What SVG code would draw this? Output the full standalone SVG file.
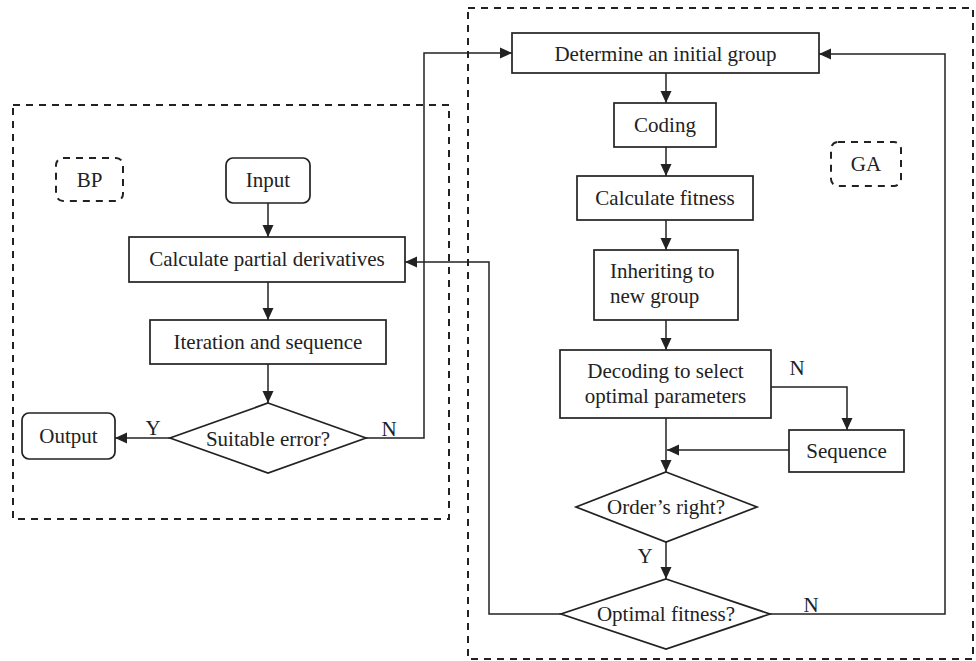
<svg xmlns="http://www.w3.org/2000/svg" width="976" height="661" viewBox="0 0 976 661">
<style>
  .box{fill:#fff;stroke:#222;stroke-width:1.7}
  .dash{fill:none;stroke:#222;stroke-width:2;stroke-dasharray:7,6}
  .ln{fill:none;stroke:#222;stroke-width:1.5}
  text{font-family:"Liberation Serif","Times New Roman",serif;font-size:21px;fill:#222}
  .c{text-anchor:middle}
</style>
<defs>
  <marker id="ah" viewBox="0 0 12 12" refX="12" refY="6" markerWidth="12" markerHeight="12" markerUnits="userSpaceOnUse" orient="auto">
    <path d="M0,0.5 L12,6 L0,11.5 z" fill="#222"/>
  </marker>
</defs>
<rect width="976" height="661" fill="#fff"/>
<g id="bp-frame"><rect class="dash" x="13" y="105" width="436" height="414"/></g>
<g id="ga-frame"><rect class="dash" x="468" y="8" width="505" height="651"/></g>
<g id="connectors">
  <path class="ln" d="M268,203 V237" marker-end="url(#ah)"/>
  <path class="ln" d="M268,282 V320" marker-end="url(#ah)"/>
  <path class="ln" d="M268,364 V403" marker-end="url(#ah)"/>
  <path class="ln" d="M170,438 H115" marker-end="url(#ah)"/>
  <path class="ln" d="M366,438 H424 V53 H512" marker-end="url(#ah)"/>
  <path class="ln" d="M666,73 V103" marker-end="url(#ah)"/>
  <path class="ln" d="M666,147 V176" marker-end="url(#ah)"/>
  <path class="ln" d="M666,220 V250" marker-end="url(#ah)"/>
  <path class="ln" d="M666,320 V350" marker-end="url(#ah)"/>
  <path class="ln" d="M666,418 V472" marker-end="url(#ah)"/>
  <path class="ln" d="M771,387 H847 V430" marker-end="url(#ah)"/>
  <path class="ln" d="M789,450 H667" marker-end="url(#ah)"/>
  <path class="ln" d="M666,542 V579" marker-end="url(#ah)"/>
  <path class="ln" d="M561,614 H489 V262 H405" marker-end="url(#ah)"/>
  <path class="ln" d="M770,614 H945 V54 H819" marker-end="url(#ah)"/>
  <text class="c" x="153" y="435">Y</text>
  <text class="c" x="389" y="436">N</text>
  <text class="c" x="797" y="375">N</text>
  <text class="c" x="645" y="563">Y</text>
  <text class="c" x="811" y="612">N</text>
</g>
<g id="bp-label"><rect class="dash" x="56" y="158" width="67" height="43" rx="7"/><text class="c" x="89.5" y="187">BP</text></g>
<g id="ga-label"><rect class="dash" x="831" y="142" width="70" height="44" rx="7"/><text class="c" x="866" y="171">GA</text></g>
<g id="input"><rect class="box" x="226" y="158" width="84" height="45" rx="7"/><text class="c" x="268" y="187">Input</text></g>
<g id="calc-partial"><rect class="box" x="129" y="237" width="276" height="45"/><text class="c" x="267" y="266">Calculate partial derivatives</text></g>
<g id="iteration"><rect class="box" x="150" y="320" width="236" height="44"/><text class="c" x="268" y="349">Iteration and sequence</text></g>
<g id="suitable"><polygon class="box" points="268,403 366,438 268,473 170,438"/><text class="c" x="268" y="446">Suitable error?</text></g>
<g id="output"><rect class="box" x="22" y="413" width="93" height="46" rx="7"/><text class="c" x="68.5" y="443">Output</text></g>
<g id="determine"><rect class="box" x="512" y="33" width="307" height="40"/><text class="c" x="665.5" y="61">Determine an initial group</text></g>
<g id="coding"><rect class="box" x="614" y="103" width="102" height="44"/><text class="c" x="665" y="132">Coding</text></g>
<g id="calc-fitness"><rect class="box" x="577" y="176" width="176" height="44"/><text class="c" x="665" y="205">Calculate fitness</text></g>
<g id="inheriting"><rect class="box" x="594" y="250" width="144" height="70"/><text x="610" y="278">Inheriting to</text><text x="610" y="303">new group</text></g>
<g id="decoding"><rect class="box" x="560" y="350" width="211" height="68"/><text class="c" x="665.5" y="378">Decoding to select</text><text class="c" x="665.5" y="403">optimal parameters</text></g>
<g id="sequence"><rect class="box" x="789" y="430" width="115" height="42"/><text class="c" x="846.5" y="458">Sequence</text></g>
<g id="order"><polygon class="box" points="666,472 757,507 666,542 576,507"/><text class="c" x="666" y="514">Order’s right?</text></g>
<g id="optimal"><polygon class="box" points="666,579 770,614 666,649 561,614"/><text class="c" x="666" y="621">Optimal fitness?</text></g>
</svg>
